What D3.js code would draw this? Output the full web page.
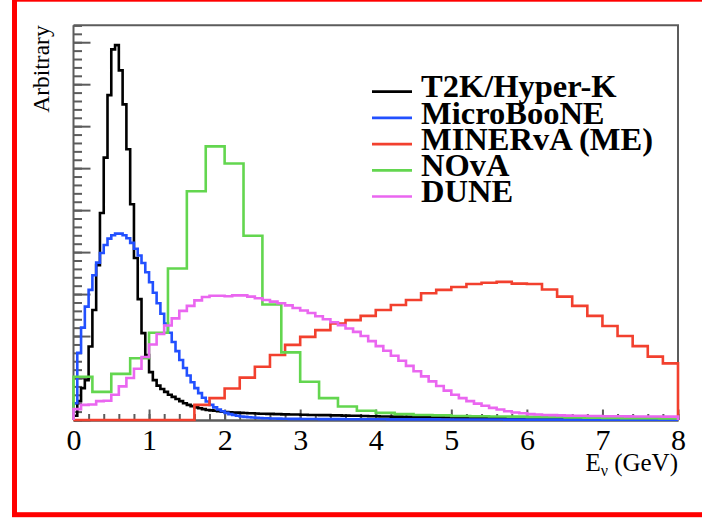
<!DOCTYPE html>
<html>
<head>
<meta charset="utf-8">
<script src="https://cdn.jsdelivr.net/npm/d3@7"></script>
<style>
  html, body { margin: 0; padding: 0; background: #fff; }
  svg { display: block; }
  text { font-family: "Liberation Serif", "Times New Roman", serif; }
</style>
</head>
<body>
<svg id="chart" width="702" height="519"></svg>
<script>
// Neutrino flux spectra (arbitrary normalisation), E_nu in GeV.
const xTickValues = [0, 1, 2, 3, 4, 5, 6, 7, 8];
const seriesNames = ["T2K/Hyper-K", "MicroBooNE", "MINERvA (ME)", "NOvA", "DUNE"];
const seriesColors = ["#000000", "#2250ff", "#f2402e", "#63d64f", "#ea66f0"];

// T2K/Hyper-K: 160 bins of 0.05 GeV
const t2k = [
  0.10, 0.45, 0.76, 0.95, 1.75, 2.62, 3.69, 4.93, 6.25, 7.74,
  8.83, 8.93, 8.33, 7.52, 6.45, 5.14, 3.86, 2.88, 2.07, 1.55,
  1.14, 0.95, 0.82, 0.74, 0.67, 0.60, 0.55, 0.50, 0.45, 0.40,
  0.36, 0.33, 0.30, 0.28, 0.26, 0.24, 0.23, 0.22, 0.21, 0.20,
  0.19, 0.185, 0.18, 0.175, 0.17, 0.165, 0.16, 0.16, 0.155, 0.15,
  0.15, 0.145, 0.145, 0.14, 0.14, 0.135, 0.135, 0.13, 0.13, 0.13,
  0.125, 0.125, 0.12, 0.12, 0.12, 0.115, 0.115, 0.115, 0.11, 0.11,
  0.11, 0.105, 0.105, 0.10, 0.10, 0.10, 0.095, 0.095, 0.09, 0.09,
  0.09, 0.085, 0.085, 0.085, 0.08, 0.08, 0.08, 0.078, 0.076, 0.074,
  0.072, 0.07, 0.07, 0.068, 0.066, 0.065, 0.064, 0.062, 0.06, 0.06,
  0.058, 0.057, 0.056, 0.055, 0.054, 0.053, 0.052, 0.051, 0.05, 0.05,
  0.049, 0.048, 0.047, 0.046, 0.045, 0.045, 0.044, 0.043, 0.042, 0.042,
  0.041, 0.04, 0.04, 0.039, 0.038, 0.038, 0.037, 0.036, 0.036, 0.035,
  0.035, 0.034, 0.034, 0.033, 0.033, 0.032, 0.032, 0.031, 0.031, 0.03,
  0.03, 0.03, 0.029, 0.029, 0.028, 0.028, 0.028, 0.027, 0.027, 0.026,
  0.026, 0.026, 0.025, 0.025, 0.025, 0.024, 0.024, 0.024, 0.023, 0.023
];

// MicroBooNE (BNB): 160 bins of 0.05 GeV
const microboone = [
  0.40, 1.60, 2.20, 2.70, 3.10, 3.45, 3.75, 3.98, 4.17, 4.32,
  4.40, 4.44, 4.44, 4.40, 4.33, 4.22, 4.08, 3.92, 3.74, 3.52,
  3.28, 3.03, 2.78, 2.53, 2.30, 2.08, 1.86, 1.64, 1.43, 1.24,
  1.06, 0.90, 0.76, 0.64, 0.53, 0.44, 0.36, 0.30, 0.25, 0.21,
  0.17, 0.14, 0.12, 0.10, 0.085, 0.075, 0.065, 0.058, 0.052, 0.047,
  0.043, 0.04, 0.037, 0.035, 0.033, 0.031, 0.03, 0.028, 0.027, 0.026,
  0.025, 0.024, 0.024, 0.023, 0.023, 0.022, 0.022, 0.021, 0.021, 0.02,
  0.02, 0.02, 0.019, 0.019, 0.019, 0.018, 0.018, 0.018, 0.018, 0.017,
  0.017, 0.017, 0.017, 0.016, 0.016, 0.016, 0.016, 0.015, 0.015, 0.015,
  0.015, 0.015, 0.014, 0.014, 0.014, 0.014, 0.014, 0.013, 0.013, 0.013,
  0.013, 0.013, 0.012, 0.012, 0.012, 0.012, 0.012, 0.012, 0.011, 0.011,
  0.011, 0.011, 0.011, 0.011, 0.01, 0.01, 0.01, 0.01, 0.01, 0.01,
  0.01, 0.01, 0.009, 0.009, 0.009, 0.009, 0.009, 0.009, 0.009, 0.009,
  0.009, 0.008, 0.008, 0.008, 0.008, 0.008, 0.008, 0.008, 0.008, 0.008,
  0.008, 0.008, 0.007, 0.007, 0.007, 0.007, 0.007, 0.007, 0.007, 0.007,
  0.007, 0.007, 0.007, 0.007, 0.006, 0.006, 0.006, 0.006, 0.006, 0.006
];

// MINERvA medium energy: 40 bins of 0.2 GeV
const minerva = [
  0, 0, 0, 0, 0, 0, 0, 0,
  0.36, 0.52, 0.75, 1.01, 1.27, 1.55, 1.79, 1.98, 2.14, 2.30,
  2.38, 2.48, 2.62, 2.74, 2.86, 3.02, 3.10, 3.17, 3.24, 3.27,
  3.29, 3.25, 3.24, 3.11, 2.94, 2.72, 2.48, 2.24, 2.00, 1.76,
  1.51, 1.35
];

// NOvA: 32 bins of 0.25 GeV
const nova = [
  1.03, 0.67, 1.10, 1.47, 2.08, 3.61, 5.45, 6.52, 6.11, 4.39,
  2.75, 1.61, 0.91, 0.52, 0.32, 0.22, 0.17, 0.14, 0.12, 0.11,
  0.095, 0.09, 0.085, 0.08, 0.075, 0.07, 0.06, 0.055, 0.05, 0.045,
  0.04, 0.035
];

// DUNE: 80 bins of 0.1 GeV
const dune = [
  0.26, 0.36, 0.37, 0.45, 0.46, 0.60, 0.80, 1.00, 1.22, 1.50,
  1.80, 2.05, 2.25, 2.42, 2.60, 2.72, 2.85, 2.93, 2.96, 2.96,
  2.95, 2.97, 2.97, 2.94, 2.90, 2.86, 2.82, 2.78, 2.73, 2.67,
  2.61, 2.55, 2.47, 2.40, 2.33, 2.26, 2.18, 2.10, 2.00, 1.88,
  1.76, 1.65, 1.53, 1.41, 1.29, 1.16, 1.04, 0.92, 0.81, 0.70,
  0.60, 0.52, 0.45, 0.39, 0.34, 0.29, 0.25, 0.21, 0.18, 0.16,
  0.14, 0.13, 0.12, 0.115, 0.11, 0.105, 0.10, 0.10, 0.095, 0.095,
  0.09, 0.09, 0.088, 0.086, 0.085, 0.084, 0.083, 0.082, 0.081, 0.08
];

const histograms = [
  { values: t2k, lo: 0, width: 0.05 },
  { values: microboone, lo: 0, width: 0.05 },
  { values: minerva, lo: 0, width: 0.2 },
  { values: nova, lo: 0, width: 0.25 },
  { values: dune, lo: 0, width: 0.1 }
];

const svg = d3.select("#chart");

// outer red frame
svg.append("rect")
  .attr("x", 14.5).attr("y", -0.8)
  .attr("width", 720).attr("height", 515.5)
  .attr("fill", "none").attr("stroke", "#ff0000").attr("stroke-width", 5);

const plot = { left: 73.5, right: 678, top: 25.3, bottom: 420 };
const yMax = d3.max(t2k) * 1.053;

const x = d3.scaleLinear().domain([0, 8]).range([plot.left, plot.right]);
const y = d3.scaleLinear().domain([0, yMax]).range([plot.bottom, plot.top]);

const axisColor = "#5c5c5c";

// frame (top and right edges)
svg.append("path")
  .attr("d", `M${plot.left},${plot.top}H${plot.right}V${plot.bottom}`)
  .attr("fill", "none").attr("stroke", axisColor).attr("stroke-width", 2);

// y axis: major every 1 unit, minor every 0.2
const yMajor = d3.range(0, Math.floor(yMax) + 1);
const yMinor = d3.range(0, Math.floor(yMax / 0.2) + 1).map(i => +(i * 0.2).toFixed(2));
const yAxisMinor = svg.append("g").attr("transform", `translate(${plot.left},0)`)
  .call(d3.axisRight(y).tickValues(yMinor).tickSize(8.5).tickFormat(""));
const yAxisMajor = svg.append("g").attr("transform", `translate(${plot.left},0)`)
  .call(d3.axisRight(y).tickValues(yMajor).tickSize(17).tickFormat(""));
[yAxisMinor, yAxisMajor].forEach(g => {
  g.select(".domain").remove();
  g.selectAll("line").attr("stroke", axisColor).attr("stroke-width", 2);
});
svg.append("line")
  .attr("x1", plot.left).attr("x2", plot.left)
  .attr("y1", plot.top).attr("y2", plot.bottom)
  .attr("stroke", axisColor).attr("stroke-width", 2);

// x axis: major every 1 GeV, minor every 0.2 GeV
const xMinor = d3.range(0, 41).map(i => +(i * 0.2).toFixed(2));
const xAxisMinor = svg.append("g").attr("transform", `translate(0,${plot.bottom})`)
  .call(d3.axisBottom(x).tickValues(xMinor).tickSizeInner(-6).tickSizeOuter(0).tickFormat(""));
const xAxisMajor = svg.append("g").attr("transform", `translate(0,${plot.bottom})`)
  .call(d3.axisBottom(x).tickValues(xTickValues).tickSizeInner(-10.5).tickSizeOuter(0)
    .tickPadding(9).tickFormat(d3.format("d")));
[xAxisMinor, xAxisMajor].forEach(g => {
  g.select(".domain").attr("stroke", axisColor).attr("stroke-width", 2);
  g.selectAll("line").attr("stroke", axisColor).attr("stroke-width", 2);
});
xAxisMajor.selectAll("text")
  .attr("font-family", "Liberation Serif, Times New Roman, serif")
  .attr("font-size", 30).attr("fill", "#000");

// axis titles
const xTitle = svg.append("text")
  .attr("x", plot.right).attr("y", 471)
  .attr("text-anchor", "end").attr("font-size", 25).attr("fill", "#000");
xTitle.append("tspan").text("E");
xTitle.append("tspan").attr("font-size", 16).attr("dy", 5).text("ν");
xTitle.append("tspan").attr("dy", -5).text(" (GeV)");

svg.append("text")
  .attr("transform", `translate(48.5,${plot.top}) rotate(-90)`)
  .attr("text-anchor", "end").attr("font-size", 23.5).attr("fill", "#000")
  .text("Arbitrary");

// histogram outlines
function outline(h) {
  const pts = [[x(h.lo), y(0)]];
  h.values.forEach((v, i) => {
    const a = h.lo + i * h.width, b = h.lo + (i + 1) * h.width;
    pts.push([x(a), y(v)], [x(b), y(v)]);
  });
  pts.push([x(h.lo + h.values.length * h.width), y(0)]);
  return d3.line()(pts);
}

svg.append("g").selectAll("path")
  .data(histograms)
  .join("path")
  .attr("d", d => outline(d))
  .attr("fill", "none")
  .attr("stroke", (d, i) => seriesColors[i])
  .attr("stroke-width", 2.6)
  .attr("stroke-linejoin", "miter");

// legend
const legend = svg.append("g").attr("transform", "translate(372,91.7)");
const rows = legend.selectAll("g").data(seriesNames).join("g")
  .attr("transform", (d, i) => `translate(0,${i * 26.2})`);
rows.append("line")
  .attr("x1", 0).attr("x2", 40)
  .attr("stroke", (d, i) => seriesColors[i]).attr("stroke-width", 2.7);
rows.append("text")
  .attr("x", 49).attr("y", 5.6)
  .attr("font-size", 32.5).attr("font-weight", "bold").attr("fill", "#000")
  .text(d => d);
</script>
</body>
</html>
